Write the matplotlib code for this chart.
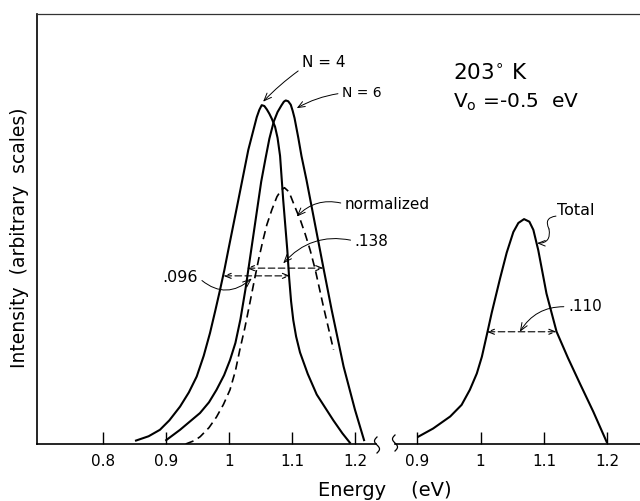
import numpy as np
import matplotlib
matplotlib.use('Agg')
import matplotlib.pyplot as plt
from matplotlib.lines import Line2D

# curves: energy (eV) vs intensity (arbitrary, axis top = 1)
n4_energy = [0.852, 0.872, 0.890, 0.905, 0.922, 0.936, 0.9485, 0.9596, 0.9696, 0.978,
             0.9855, 0.9925, 0.9987, 1.0146, 1.0305, 1.0439, 1.048, 1.0518, 1.056, 1.060,
             1.064, 1.068, 1.073, 1.077, 1.081, 1.086, 1.0925, 1.0955, 1.0985, 1.102,
             1.1065, 1.1127, 1.125, 1.1393, 1.1657, 1.180, 1.192]
n4_int = [0.008, 0.018, 0.033, 0.055, 0.087, 0.120, 0.157, 0.205, 0.258, 0.310,
          0.358, 0.405, 0.451, 0.567, 0.684, 0.760, 0.777, 0.788, 0.786, 0.778,
          0.768, 0.756, 0.738, 0.712, 0.670, 0.567, 0.451, 0.385, 0.332, 0.288,
          0.250, 0.213, 0.163, 0.115, 0.055, 0.025, 0.003]

n6_energy = [0.900, 0.922, 0.9537, 0.968, 0.980, 0.992, 1.0014, 1.010, 1.018, 1.026,
             1.034, 1.043, 1.051, 1.058, 1.064, 1.071, 1.077, 1.083, 1.087, 1.090,
             1.094, 1.098, 1.101, 1.104, 1.110, 1.115, 1.123, 1.150, 1.163, 1.182,
             1.200, 1.2145]
n6_int = [0.009, 0.033, 0.072, 0.097, 0.126, 0.160, 0.195, 0.235, 0.290, 0.360,
          0.440, 0.530, 0.610, 0.665, 0.710, 0.750, 0.772, 0.787, 0.796, 0.799,
          0.797, 0.789, 0.775, 0.758, 0.712, 0.670, 0.614, 0.409, 0.312, 0.180,
          0.080, 0.009]

norm_energy = [0.931, 0.945, 0.954, 0.968, 0.980, 0.991, 1.0014, 1.010, 1.017, 1.025,
               1.033, 1.040, 1.047, 1.054, 1.060, 1.068, 1.076, 1.083, 1.088, 1.094,
               1.098, 1.105, 1.113, 1.121, 1.129, 1.137, 1.150, 1.166]
norm_int = [0.0, 0.008, 0.017, 0.038, 0.063, 0.092, 0.126, 0.170, 0.219, 0.270,
            0.328, 0.380, 0.430, 0.475, 0.510, 0.545, 0.575, 0.591, 0.596, 0.588,
            0.576, 0.550, 0.522, 0.488, 0.450, 0.405, 0.319, 0.219]

total_energy = [0.9016, 0.925, 0.952, 0.970, 0.983, 0.994, 1.002, 1.010, 1.0175, 1.0307,
                1.0412, 1.0517, 1.0596, 1.0686, 1.077, 1.0833, 1.091, 1.099, 1.104,
                1.120, 1.138, 1.157, 1.178, 1.199]
total_int = [0.017, 0.036, 0.064, 0.091, 0.126, 0.164, 0.203, 0.255, 0.305, 0.385,
             0.445, 0.493, 0.514, 0.523, 0.517, 0.498, 0.451, 0.389, 0.350,
             0.261, 0.200, 0.140, 0.075, 0.005]

# half widths (eV) drawn as dashed double arrows
fwhm_labels = ['.096', '.138', '.110']
fwhm_level = [0.391, 0.409, 0.261]
fwhm_lo = [0.991, 1.028, 1.0096]
fwhm_hi = [1.097, 1.150, 1.120]

left_ticks = [0.8, 0.9, 1.0, 1.1, 1.2]
left_ticklabels = ['0.8', '0.9', '1', '1.1', '1.2']
right_ticks = [0.9, 1.0, 1.1, 1.2]
right_ticklabels = ['0.9', '1', '1.1', '1.2']

W, H = 640, 501
fig = plt.figure(figsize=(W / 100, H / 100), dpi=100)
fig.patch.set_facecolor('white')

ax_l = fig.add_axes([37 / W, 57 / H, 339 / W, 430 / H])
ax_r = fig.add_axes([395 / W, 57 / H, 245 / W, 430 / H])
ax_r.patch.set_visible(False)  # don't hide the labels of the left panel
ax_l.set_xlim(0.6946, 1.2335)
ax_r.set_xlim(0.8648, 1.2517)

for ax in (ax_l, ax_r):
    ax.set_ylim(0, 1)
    ax.set_yticks([])
    ax.spines['top'].set_visible(False)
    ax.spines['right'].set_visible(False)
    ax.spines['bottom'].set_linewidth(1.2)
    ax.tick_params(axis='x', direction='in', length=9, width=1, pad=7, labelsize=11)
ax_r.spines['left'].set_visible(False)
ax_l.spines['left'].set_linewidth(1.2)
ax_l.set_xticks(left_ticks, left_ticklabels)
ax_r.set_xticks(right_ticks, right_ticklabels)

# curves
ax_l.plot(n4_energy, n4_int, color='black', lw=1.5, solid_joinstyle='round')
ax_l.plot(n6_energy, n6_int, color='black', lw=1.5, solid_joinstyle='round')
ax_l.plot(norm_energy, norm_int, color='black', lw=1.2, ls=(0, (5, 3)))
ax_r.plot(total_energy, total_int, color='black', lw=1.5, solid_joinstyle='round')

# FWHM arrows
head = '<->,head_length=0.45,head_width=0.18'
for ax, i in ((ax_l, 0), (ax_l, 1), (ax_r, 2)):
    ax.annotate('', xy=(fwhm_hi[i], fwhm_level[i]), xytext=(fwhm_lo[i], fwhm_level[i]),
                arrowprops=dict(arrowstyle=head, lw=0.8, ls=(0, (6, 3)),
                                shrinkA=0, shrinkB=0))

arrow = '->,head_length=0.5,head_width=0.2'
def leader(ax, text, xy, xytext, rad, ha='left', relpos=(0, 0.5), size=11):
    ax.annotate(text, xy=xy, xytext=xytext, ha=ha, va='center', fontsize=size,
                arrowprops=dict(arrowstyle=arrow, lw=0.7, color='black',
                                connectionstyle=f'arc3,rad={rad}', relpos=relpos,
                                shrinkA=1, shrinkB=0))

leader(ax_l, 'N = 4', (1.054, 0.796), (1.116, 0.888), 0.05, relpos=(0, 0.1), size=11)
leader(ax_l, 'N = 6', (1.1075, 0.781), (1.1796, 0.816), 0.1, size=10)
leader(ax_l, 'normalized', (1.1075, 0.529), (1.184, 0.558), 0.3, size=11)
leader(ax_l, fwhm_labels[1], (1.086, 0.420), (1.1996, 0.472), 0.3, size=11)
leader(ax_l, fwhm_labels[0], (1.036, 0.385), (0.9507, 0.388), 0.45, ha='right',
       relpos=(1, 0.5), size=11.5)
leader(ax_r, fwhm_labels[2], (1.062, 0.261), (1.138, 0.319), 0.3, size=11)

# "Total" with an S-shaped leader
ax_r.text(1.1206, 0.544, 'Total', ha='left', va='center', fontsize=11.5)
ax_r.annotate('', xy=(1.108, 0.500), xytext=(1.119, 0.530),
              arrowprops=dict(arrowstyle='-', lw=0.7, connectionstyle='arc3,rad=0.7',
                              shrinkA=0, shrinkB=0))
ax_r.annotate('', xy=(1.089, 0.467), xytext=(1.108, 0.500),
              arrowprops=dict(arrowstyle=arrow, lw=0.7, connectionstyle='arc3,rad=-0.6',
                              shrinkA=0, shrinkB=0))

# condition labels
fig.text(453 / W, 1 - 80 / H, r'203$^{\circ}$ K', ha='left', va='baseline', fontsize=15.5)
fig.text(453 / W, 1 - 108 / H, r'V$_{\rm o}$ =-0.5  eV', ha='left', va='baseline', fontsize=14.5)

# axis titles
fig.text(385 / W, 1 - 490 / H, 'Energy    (eV)', ha='center', va='center', fontsize=14)
fig.text(20 / W, 1 - 238 / H, 'Intensity  (arbitrary  scales)', rotation=90,
         ha='center', va='center', fontsize=13.5)

# top frame line across both panels
fig.add_artist(Line2D([37 / W, 1.0], [1 - 14 / H] * 2, transform=fig.transFigure,
                      lw=0.9, color='#333333'))

# axis break marks
t = np.linspace(0, 1, 40)
for xc, yc in ((377, 56), (395, 58)):
    xs = (xc + 2.5 * np.sin(2 * np.pi * t)) / W
    ys = (yc + (t - 0.5) * 16) / H
    fig.add_artist(Line2D(xs, ys, transform=fig.transFigure, lw=0.9, color='black'))

fig.savefig('out.png', dpi=100)
